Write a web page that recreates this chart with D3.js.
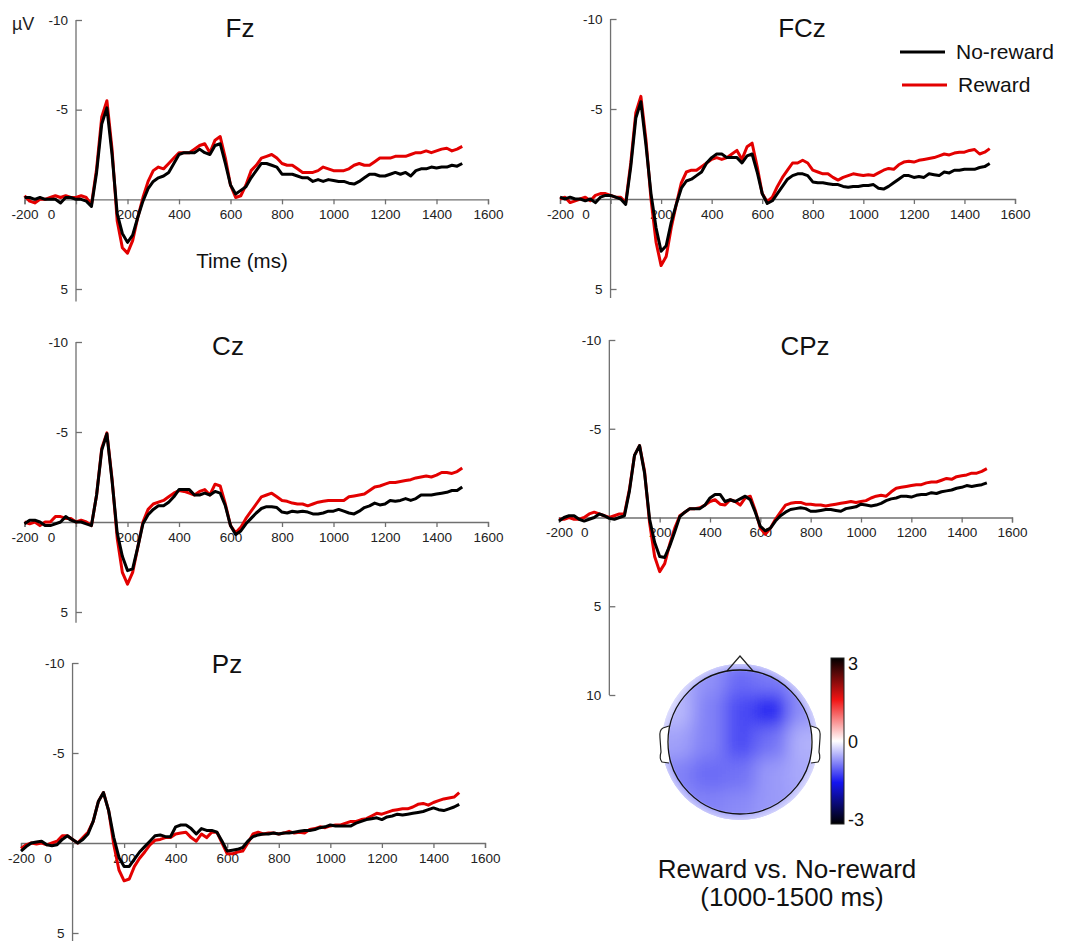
<!DOCTYPE html>
<html>
<head>
<meta charset="utf-8">
<script src="https://cdn.jsdelivr.net/npm/d3@7"></script>
<style>
  body { margin: 0; background: #fff; }
  svg { font-family: Arial, "Liberation Sans", sans-serif; }
</style>
</head>
<body>
<svg id="chart" width="1072" height="941"></svg>
<script>
// ─── data: ERP amplitudes (µV), sampled every 20 ms from -200 to 1500 ms ───
const times = d3.range(-200, 1501, 20);

const fzNoReward = [
  -0.1,-0.1,0.0,-0.1,0.0,0.0,0.0,0.2,-0.1,-0.1,
  0.0,0.0,0.1,0.4,-1.5,-4.2,-5.1,-2.5,0.8,1.9,
  2.4,2.0,1.0,0.1,-0.6,-1.0,-1.2,-1.3,-1.5,-2.0,
  -2.5,-2.6,-2.6,-2.6,-2.8,-2.6,-2.5,-3.0,-3.1,-2.0,
  -0.8,-0.3,-0.5,-0.7,-1.2,-1.6,-2.0,-2.0,-1.9,-1.8,
  -1.4,-1.4,-1.4,-1.3,-1.2,-1.2,-1.0,-1.1,-1.0,-1.1,
  -1.05,-1.0,-1.0,-0.9,-0.85,-1.0,-1.2,-1.4,-1.4,-1.3,
  -1.3,-1.4,-1.5,-1.4,-1.5,-1.3,-1.6,-1.7,-1.7,-1.8,
  -1.75,-1.8,-1.8,-1.9,-1.85,-2.0];
const fzReward = [
  -0.2,0.1,0.2,0.0,0.0,-0.1,-0.2,-0.1,-0.2,-0.1,
  -0.1,-0.2,-0.1,0.3,-1.7,-4.6,-5.5,-2.8,1.2,2.7,
  3.0,2.3,1.0,-0.1,-1.0,-1.6,-1.8,-1.7,-2.0,-2.3,
  -2.6,-2.6,-2.6,-2.8,-3.0,-3.1,-2.6,-3.3,-3.5,-2.3,
  -0.8,-0.1,-0.2,-0.8,-1.6,-1.9,-2.3,-2.4,-2.5,-2.3,
  -2.0,-1.9,-1.9,-1.7,-1.5,-1.5,-1.5,-1.6,-1.8,-1.7,
  -1.6,-1.6,-1.6,-1.7,-1.9,-2.0,-1.9,-1.9,-2.1,-2.3,
  -2.3,-2.3,-2.4,-2.4,-2.4,-2.5,-2.6,-2.6,-2.7,-2.6,
  -2.7,-2.8,-2.85,-2.7,-2.8,-2.95];

const fczNoReward = [
  -0.1,0.0,-0.1,0.0,0.0,0.1,0.0,0.2,-0.1,-0.2,
  -0.2,-0.1,0.0,0.3,-1.8,-4.5,-5.4,-3.0,-0.3,1.6,
  2.9,2.6,1.3,0.3,-0.6,-1.0,-1.1,-1.3,-1.5,-2.0,
  -2.3,-2.5,-2.5,-2.3,-2.3,-2.3,-2.0,-2.4,-2.5,-1.5,
  -0.3,0.25,0.1,-0.3,-0.7,-1.1,-1.3,-1.4,-1.4,-1.3,
  -0.95,-0.9,-0.9,-0.85,-0.8,-0.8,-0.7,-0.65,-0.7,-0.7,
  -0.75,-0.75,-0.8,-0.6,-0.55,-0.7,-0.9,-1.1,-1.3,-1.3,
  -1.2,-1.25,-1.2,-1.4,-1.35,-1.3,-1.5,-1.45,-1.6,-1.6,
  -1.65,-1.65,-1.65,-1.75,-1.8,-1.97];
const fczReward = [
  0.0,-0.1,0.2,0.1,0.0,-0.1,0.1,-0.2,-0.3,-0.3,
  -0.2,-0.1,-0.1,0.2,-2.0,-4.8,-5.7,-3.3,0.0,2.4,
  3.7,3.2,1.6,0.3,-0.9,-1.5,-1.6,-1.6,-1.8,-2.0,
  -2.2,-2.3,-2.2,-2.3,-2.5,-2.7,-2.2,-2.9,-3.1,-1.8,
  -0.3,0.15,-0.1,-0.7,-1.2,-1.6,-2.0,-2.0,-2.15,-2.0,
  -1.6,-1.5,-1.4,-1.4,-1.2,-1.05,-1.2,-1.3,-1.4,-1.35,
  -1.3,-1.35,-1.3,-1.45,-1.6,-1.7,-1.65,-1.9,-2.05,-2.1,
  -2.05,-2.15,-2.2,-2.25,-2.3,-2.4,-2.5,-2.45,-2.55,-2.6,
  -2.6,-2.7,-2.75,-2.5,-2.6,-2.8];

const czNoReward = [
  0.1,-0.1,-0.1,0.0,0.2,0.2,0.1,0.0,-0.3,-0.1,
  0.0,0.0,0.1,0.2,-1.5,-4.0,-4.9,-2.3,0.6,1.9,
  2.7,2.6,1.4,0.1,-0.4,-0.7,-0.9,-0.9,-1.1,-1.4,
  -1.8,-1.8,-1.8,-1.5,-1.5,-1.6,-1.5,-1.7,-1.6,-0.9,
  0.2,0.7,0.5,0.1,-0.2,-0.5,-0.75,-0.85,-0.85,-0.8,
  -0.55,-0.5,-0.6,-0.55,-0.6,-0.55,-0.45,-0.45,-0.5,-0.6,
  -0.6,-0.7,-0.6,-0.5,-0.45,-0.6,-0.8,-0.9,-1.05,-0.95,
  -1.0,-1.2,-1.15,-1.2,-1.3,-1.2,-1.3,-1.5,-1.5,-1.5,
  -1.55,-1.6,-1.65,-1.75,-1.75,-1.95];
const czReward = [
  0.0,0.1,0.0,0.2,0.0,0.0,-0.3,-0.3,-0.2,-0.2,
  0.0,-0.1,0.0,0.2,-1.5,-4.1,-4.95,-2.4,0.9,2.8,
  3.45,2.8,1.4,0.0,-0.7,-1.0,-1.1,-1.2,-1.4,-1.6,
  -1.75,-1.7,-1.6,-1.5,-1.7,-1.8,-1.5,-2.1,-2.0,-1.0,
  0.2,0.6,0.3,-0.2,-0.6,-1.0,-1.4,-1.5,-1.6,-1.4,
  -1.2,-1.15,-1.05,-1.0,-1.0,-0.9,-1.0,-1.1,-1.15,-1.2,
  -1.2,-1.2,-1.2,-1.4,-1.45,-1.5,-1.55,-1.75,-1.95,-2.0,
  -2.1,-2.2,-2.2,-2.25,-2.3,-2.35,-2.45,-2.5,-2.55,-2.5,
  -2.6,-2.75,-2.75,-2.7,-2.8,-3.0];

const cpzNoReward = [
  0.2,0.0,-0.1,-0.1,0.1,0.2,0.1,0.0,-0.2,-0.1,
  0.05,0.1,0.0,-0.1,-1.5,-3.5,-4.05,-2.5,0.1,1.4,
  2.2,2.25,1.6,0.8,-0.05,-0.3,-0.5,-0.5,-0.5,-0.7,
  -1.1,-1.3,-1.3,-0.9,-1.0,-0.9,-1.05,-1.2,-1.0,-0.3,
  0.5,0.75,0.6,0.2,-0.1,-0.3,-0.45,-0.5,-0.55,-0.5,
  -0.35,-0.35,-0.4,-0.45,-0.45,-0.4,-0.35,-0.5,-0.55,-0.6,
  -0.75,-0.7,-0.65,-0.7,-0.8,-0.95,-1.05,-1.1,-1.2,-1.2,
  -1.15,-1.25,-1.3,-1.3,-1.4,-1.35,-1.45,-1.5,-1.55,-1.65,
  -1.7,-1.8,-1.75,-1.8,-1.85,-1.95];
const cpzReward = [
  0.1,0.1,0.0,0.1,0.1,0.0,-0.2,-0.3,-0.2,-0.1,
  0.0,-0.1,-0.2,-0.2,-1.6,-3.5,-4.05,-2.6,0.3,2.2,
  3.05,2.6,1.5,0.6,-0.1,-0.3,-0.5,-0.5,-0.55,-0.7,
  -0.9,-1.0,-0.75,-0.7,-1.0,-0.9,-0.7,-1.1,-1.2,-0.4,
  0.6,0.95,0.6,0.1,-0.3,-0.7,-0.8,-0.85,-0.85,-0.75,
  -0.75,-0.7,-0.7,-0.65,-0.7,-0.75,-0.8,-0.85,-0.9,-0.85,
  -0.9,-0.95,-1.1,-1.2,-1.25,-1.2,-1.45,-1.65,-1.7,-1.75,
  -1.8,-1.85,-1.85,-1.95,-2.0,-2.0,-2.1,-2.2,-2.15,-2.3,
  -2.35,-2.4,-2.5,-2.5,-2.6,-2.75];

const pzNoReward = [
  0.45,0.2,0.0,-0.05,-0.1,0.1,0.15,0.1,-0.2,-0.4,
  -0.2,0.0,-0.2,-0.5,-1.2,-2.3,-2.8,-1.8,-0.3,0.8,
  1.3,1.3,0.9,0.5,0.2,-0.1,-0.4,-0.45,-0.35,-0.35,
  -0.9,-1.0,-1.0,-0.8,-0.5,-0.8,-0.7,-0.7,-0.6,-0.1,
  0.45,0.4,0.35,0.25,-0.1,-0.35,-0.45,-0.5,-0.5,-0.55,
  -0.5,-0.55,-0.55,-0.6,-0.65,-0.7,-0.7,-0.75,-0.85,-0.9,
  -1.0,-0.95,-0.95,-0.95,-0.95,-1.1,-1.2,-1.3,-1.35,-1.4,
  -1.3,-1.45,-1.5,-1.6,-1.55,-1.6,-1.65,-1.7,-1.75,-1.85,
  -1.95,-1.85,-1.8,-1.9,-2.0,-2.15];
const pzReward = [
  0.3,0.1,0.0,0.05,0.0,0.1,0.0,-0.1,-0.4,-0.4,
  -0.2,0.0,-0.3,-0.6,-1.2,-2.3,-2.8,-1.8,0.1,1.5,
  2.1,2.0,1.3,0.85,0.5,0.1,-0.15,-0.2,-0.3,-0.3,
  -0.5,-0.55,-0.6,-0.3,-0.1,-0.5,-0.3,-0.6,-0.6,0.0,
  0.6,0.6,0.5,0.45,0.0,-0.5,-0.6,-0.5,-0.55,-0.55,
  -0.5,-0.55,-0.65,-0.55,-0.6,-0.55,-0.75,-0.8,-0.9,-0.85,
  -0.95,-1.0,-1.0,-1.1,-1.2,-1.2,-1.3,-1.35,-1.5,-1.65,
  -1.6,-1.7,-1.8,-1.85,-1.9,-1.9,-2.0,-2.15,-2.2,-2.1,
  -2.25,-2.35,-2.45,-2.5,-2.55,-2.8];

// x / y tick values
const xTicks = d3.range(-200, 1601, 200);
const yTicks = [-10, -5, 5];
const yTicksLong = [-10, -5, 5, 10];

// topography: Reward minus No-reward, 1000-1500 ms (µV), 7x7 grid, rows front→back
const topoValues = [
  [-0.5, -0.5, -0.55, -0.6, -0.6, -0.5, -0.5],
  [-0.5, -0.5, -0.7, -0.95, -0.85, -0.7, -0.55],
  [-0.55, -0.45, -0.8, -1.15, -1.4, -0.7, -0.55],
  [-0.6, -0.6, -0.8, -1.15, -0.9, -0.5, -0.55],
  [-0.65, -0.8, -0.95, -0.9, -0.65, -0.55, -0.55],
  [-0.6, -0.75, -0.8, -0.75, -0.65, -0.6, -0.55],
  [-0.5, -0.6, -0.65, -0.65, -0.6, -0.55, -0.5]
];
const colorbarTicks = [-3, 0, 3];

const legendLabels = ["No-reward", "Reward"];

// ─── styles / layout ───
const black = "#000";
const red = "#e30000";
const axisColor = "#707070";
const textColor = "#222";
const plain = d => String(d);   // hyphen-minus like the original figure

const panels = [
  { name: "Fz",  noRew: fzNoReward,  rew: fzReward,  xr: [24.5, 488], yr: [20, 289],  ymax: 5,  axisEnd: 5.7, ticks: yTicks,     title: [240, 37] },
  { name: "FCz", noRew: fczNoReward, rew: fczReward, xr: [560, 1015], yr: [19, 289],  ymax: 5,  axisEnd: 5.5, ticks: yTicks,     title: [802, 37] },
  { name: "Cz",  noRew: czNoReward,  rew: czReward,  xr: [24.5, 488], yr: [342, 612], ymax: 5,  axisEnd: 5.6, ticks: yTicks,     title: [228, 355] },
  { name: "CPz", noRew: cpzNoReward, rew: cpzReward, xr: [559, 1012], yr: [340, 695], ymax: 10, axisEnd: 10,  ticks: yTicksLong, title: [805, 355] },
  { name: "Pz",  noRew: pzNoReward,  rew: pzReward,  xr: [21, 485],   yr: [663, 933], ymax: 5,  axisEnd: 5.5, ticks: yTicks,     title: [227, 673] }
];

const svg = d3.select("#chart");
svg.append("rect").attr("width", 1072).attr("height", 941).attr("fill", "#fff");

// ─── ERP panels ───
panels.forEach(p => {
  const x = d3.scaleLinear().domain([-200, 1600]).range(p.xr);
  const y = d3.scaleLinear().domain([-10, p.ymax]).range(p.yr);
  const g = svg.append("g");

  // y axis (negative up), ticks pointing inward
  g.append("line")
    .attr("x1", x(0)).attr("x2", x(0))
    .attr("y1", y(-10)).attr("y2", y(p.axisEnd))
    .attr("stroke", axisColor).attr("stroke-width", 1.3);
  const yAxis = g.append("g")
    .attr("transform", `translate(${x(0)},0)`)
    .call(d3.axisLeft(y).tickValues(p.ticks).tickFormat(plain)
      .tickSizeInner(-6).tickSizeOuter(0).tickPadding(8));
  yAxis.select(".domain").remove();

  // x axis at 0 µV
  const xAxis = g.append("g")
    .attr("transform", `translate(0,${y(0)})`)
    .call(d3.axisBottom(x).tickValues(xTicks).tickFormat(plain).tickSize(5).tickPadding(5));
  xAxis.selectAll("text").filter(d => d === 0).attr("dx", -25);

  [yAxis, xAxis].forEach(a => {
    a.selectAll("line").attr("stroke", axisColor).attr("stroke-width", 1.3);
    a.select(".domain").attr("stroke", axisColor).attr("stroke-width", 1.3);
    a.selectAll("text")
      .attr("fill", textColor)
      .style("font-size", "13.5px")
      .style("font-family", "Arial, 'Liberation Sans', sans-serif");
  });

  // waveforms
  const line = d3.line()
    .x((d, i) => x(times[i]))
    .y(d => y(d));
  g.append("path").datum(p.rew)
    .attr("fill", "none").attr("stroke", red)
    .attr("stroke-width", 3).attr("stroke-linejoin", "round")
    .attr("d", line);
  g.append("path").datum(p.noRew)
    .attr("fill", "none").attr("stroke", black)
    .attr("stroke-width", 3).attr("stroke-linejoin", "round")
    .attr("d", line);

  // electrode title
  g.append("text")
    .attr("x", p.title[0]).attr("y", p.title[1])
    .attr("text-anchor", "middle")
    .style("font-size", "26px")
    .attr("fill", "#111")
    .text(p.name);
});

// units and time label (Fz panel)
svg.append("text").attr("x", 12).attr("y", 30)
  .style("font-size", "18px").attr("fill", textColor).text("µV");
svg.append("text").attr("x", 242).attr("y", 268)
  .attr("text-anchor", "middle")
  .style("font-size", "20.5px").attr("fill", "#111").text("Time (ms)");

// legend
const legendColors = [black, red];
const legend = svg.append("g");
legendLabels.forEach((lab, i) => {
  const ly = 52 + i * 33;
  legend.append("line")
    .attr("x1", 900 + i * 2).attr("x2", 945 + i * 2)
    .attr("y1", ly).attr("y2", ly)
    .attr("stroke", legendColors[i]).attr("stroke-width", 3);
  legend.append("text")
    .attr("x", 956 + i * 2).attr("y", ly + 7)
    .style("font-size", "21px").attr("fill", "#111")
    .text(lab);
});

// ─── topographic map ───
const cx = 740, cy = 742, rHead = 72, rMap = 78;
const topoColor = d3.scaleLinear()
  .domain([-3, -1.5, 0, 1.5, 3])
  .range(["#000000", "#1414f0", "#ffffff", "#f01414", "#000000"]);

const defs = svg.append("defs");
defs.append("clipPath").attr("id", "scalp")
  .append("circle").attr("cx", cx).attr("cy", cy).attr("r", rMap);
defs.append("filter").attr("id", "smooth")
  .attr("x", "-10%").attr("y", "-10%").attr("width", "120%").attr("height", "120%")
  .append("feGaussianBlur").attr("stdDeviation", 9);
const rim = defs.append("radialGradient").attr("id", "rim")
  .attr("gradientUnits", "userSpaceOnUse")
  .attr("cx", cx).attr("cy", cy).attr("r", rMap);
rim.append("stop").attr("offset", 0.9).attr("stop-color", "#fff").attr("stop-opacity", 0);
rim.append("stop").attr("offset", 0.93).attr("stop-color", "#fff").attr("stop-opacity", 0.3);
rim.append("stop").attr("offset", 1).attr("stop-color", "#fff").attr("stop-opacity", 0.55);

const gridX = d3.scaleBand().domain(d3.range(7)).range([cx - 112, cx + 112]);
const gridY = d3.scaleBand().domain(d3.range(7)).range([cy - 112, cy + 112]);
const cells = topoValues.flatMap((row, i) => row.map((v, j) => ({ i, j, v })));

const topo = svg.append("g");
topo.append("g").attr("clip-path", "url(#scalp)")
  .append("g").attr("filter", "url(#smooth)")
  .selectAll("rect").data(cells).join("rect")
    .attr("x", d => gridX(d.j)).attr("y", d => gridY(d.i))
    .attr("width", gridX.bandwidth() + 0.5).attr("height", gridY.bandwidth() + 0.5)
    .attr("fill", d => topoColor(d.v));

// lighter rim outside the head outline
topo.append("circle").attr("cx", cx).attr("cy", cy).attr("r", rMap)
  .attr("fill", "url(#rim)");

// ears
[-1, 1].forEach(s => {
  const ear = d3.path();
  ear.moveTo(cx + s * (rHead - 1), cy - 16);
  ear.lineTo(cx + s * (rHead + 5), cy - 14);
  ear.quadraticCurveTo(cx + s * (rHead + 9), cy - 12, cx + s * (rHead + 8), cy - 4);
  ear.lineTo(cx + s * (rHead + 7), cy + 10);
  ear.quadraticCurveTo(cx + s * (rHead + 9), cy + 17, cx + s * (rHead + 6), cy + 20);
  ear.lineTo(cx + s * (rHead - 1), cy + 21);
  topo.append("path").attr("d", ear.toString())
    .attr("fill", "#fff").attr("stroke", "#222").attr("stroke-width", 1.2);
});
// nose
topo.append("path")
  .attr("d", `M${cx - 13},${cy - rHead + 1}L${cx},${cy - rHead - 14}L${cx + 13},${cy - rHead + 1}`)
  .attr("fill", "none").attr("stroke", "#222").attr("stroke-width", 1.2);
// head outline
topo.append("circle").attr("cx", cx).attr("cy", cy).attr("r", rHead)
  .attr("fill", "none").attr("stroke", "#111").attr("stroke-width", 1.3);

// colorbar
const grad = defs.append("linearGradient").attr("id", "cbar")
  .attr("x1", 0).attr("y1", 1).attr("x2", 0).attr("y2", 0);
d3.range(0, 1.0001, 1 / 24).forEach(t => {
  grad.append("stop").attr("offset", t).attr("stop-color", topoColor(-3 + 6 * t));
});
svg.append("rect").attr("x", 831).attr("y", 658).attr("width", 13).attr("height", 166)
  .attr("fill", "url(#cbar)").attr("stroke", "#222").attr("stroke-width", 1);

const cbScale = d3.scaleLinear().domain([-3, 3]).range([820, 664]);
const cbAxis = svg.append("g").attr("transform", "translate(844,0)")
  .call(d3.axisRight(cbScale).tickValues(colorbarTicks).tickFormat(plain).tickSize(0).tickPadding(4));
cbAxis.select(".domain").remove();
cbAxis.selectAll("text")
  .attr("fill", "#111")
  .style("font-size", "18px")
  .style("font-family", "Arial, 'Liberation Sans', sans-serif");

// caption
svg.append("text").attr("x", 787).attr("y", 878)
  .attr("text-anchor", "middle").style("font-size", "26px").attr("fill", "#111")
  .text("Reward vs. No-reward");
svg.append("text").attr("x", 792).attr("y", 906)
  .attr("text-anchor", "middle").style("font-size", "26px").attr("fill", "#111")
  .text("(1000-1500 ms)");
</script>
</body>
</html>
